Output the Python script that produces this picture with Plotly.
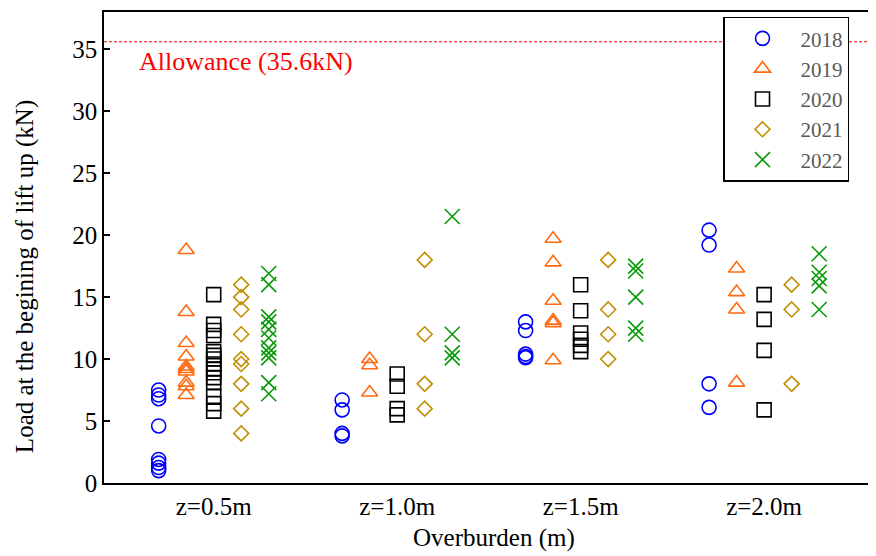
import plotly.graph_objects as go

categories = ["z=0.5m", "z=1.0m", "z=1.5m", "z=2.0m"]
years = ["2018", "2019", "2020", "2021", "2022"]

load_2018 = [
    [7.5, 7.1, 6.8, 4.6, 1.9, 1.6, 1.25, 1.0],
    [6.7, 5.9, 4.0, 3.8],
    [13.0, 12.3, 10.4, 10.2, 10.1],
    [20.4, 19.2, 8.0, 6.1],
]
load_2019 = [
    [18.8, 13.8, 11.3, 10.2, 9.4, 9.2, 9.0, 8.1, 7.8, 7.1],
    [10.0, 9.5, 7.3],
    [19.7, 17.8, 14.7, 13.1, 12.9, 9.9],
    [17.3, 15.4, 14.0, 8.1],
]
load_2020 = [
    [15.2, 12.8, 12.3, 11.9, 10.6, 10.3, 10.0, 9.6, 9.2, 8.9, 8.5, 8.1, 7.0, 6.4, 5.8],
    [8.8, 7.8, 6.0, 5.5],
    [16.0, 13.9, 12.1, 11.6, 11.1, 10.6],
    [15.2, 13.2, 10.7, 5.9],
]
load_2021 = [
    [16.0, 15.0, 14.0, 12.0, 10.0, 9.6, 8.0, 6.0, 4.0],
    [18.0, 12.0, 8.0, 6.0],
    [18.0, 14.0, 12.0, 10.0],
    [16.0, 14.0, 8.0],
]
load_2022 = [
    [16.9, 16.0, 13.4, 13.0, 12.4, 11.7, 10.9, 10.5, 10.1, 8.1, 7.2],
    [21.5, 12.0, 10.5, 10.1],
    [17.5, 17.1, 15.0, 12.5, 12.0],
    [18.5, 17.0, 16.5, 15.9, 14.0],
]
allowance = 35.6

series = [load_2018, load_2019, load_2020, load_2021, load_2022]
symbols = ["circle-open", "triangle-up-open", "square-open", "diamond-open", "x-thin-open"]
colors = ["#0000FF", "#FF6A10", "#000000", "#BF8F00", "#0A9A0A"]
sizes = [14, 14, 14, 11.5, 15]
offsets = [-0.3, -0.15, 0.0, 0.15, 0.3]

FONT = "Times New Roman"

fig = go.Figure()
for yi, (yr, data) in enumerate(zip(years, series)):
    xs, ys = [], []
    for ci, vals in enumerate(data):
        for v in vals:
            xs.append(ci + 1 + offsets[yi])
            ys.append(v)
    fig.add_trace(go.Scatter(
        x=xs, y=ys, mode="markers", name=yr,
        marker=dict(symbol=symbols[yi], size=sizes[yi], color=colors[yi],
                    line=dict(width=1.6, color=colors[yi])),
    ))

fig.add_shape(type="line", xref="paper", x0=0, x1=1, yref="y", y0=allowance, y1=allowance,
              line=dict(color="#FF0000", width=1, dash="3px,2px"))
fig.add_annotation(text="Allowance (35.6kN)", xref="paper", x=0.0435, xanchor="left",
                   yref="y", y=34.0, yanchor="middle", showarrow=False,
                   font=dict(family=FONT, size=26, color="#FF0000"))
fig.add_annotation(text="Load at the begining of lift up (kN)", xref="paper", x=-0.103,
                   xanchor="center", yref="paper", y=0.439, yanchor="middle",
                   textangle=-90, showarrow=False,
                   font=dict(family=FONT, size=25, color="#000000"))
fig.add_annotation(text="Overburden (m)", xref="paper", x=0.508, xanchor="center",
                   yref="paper", y=-0.116, yanchor="middle", showarrow=False,
                   font=dict(family=FONT, size=25, color="#000000"))

fig.update_layout(
    width=868, height=548,
    margin=dict(l=96, r=4, t=2, b=73),
    paper_bgcolor="white", plot_bgcolor="white",
    font=dict(family=FONT, size=25, color="#000000"),
    showlegend=True,
    legend=dict(x=0.806, y=0.99, xanchor="left", yanchor="top",
                bgcolor="white", bordercolor="#000000", borderwidth=1.5,
                font=dict(family=FONT, size=21, color="#595959"),
                itemwidth=66),
    xaxis=dict(range=[0.402, 4.588], tickvals=[1, 2, 3, 4], ticktext=categories,
               tickfont=dict(family=FONT, size=25, color="#000000"),
               showgrid=False, zeroline=False, showline=True, linecolor="#000000",
               linewidth=1.5, mirror=True, ticks=""),
    yaxis=dict(range=[0, 38], dtick=5, showgrid=False, zeroline=False, showline=True,
               tickfont=dict(family=FONT, size=25, color="#000000"),
               linecolor="#000000", linewidth=1.5, mirror=True, ticks="inside",
               ticklen=6, tickwidth=1.5, tickcolor="#000000"),
)

fig.write_html("out.html")
